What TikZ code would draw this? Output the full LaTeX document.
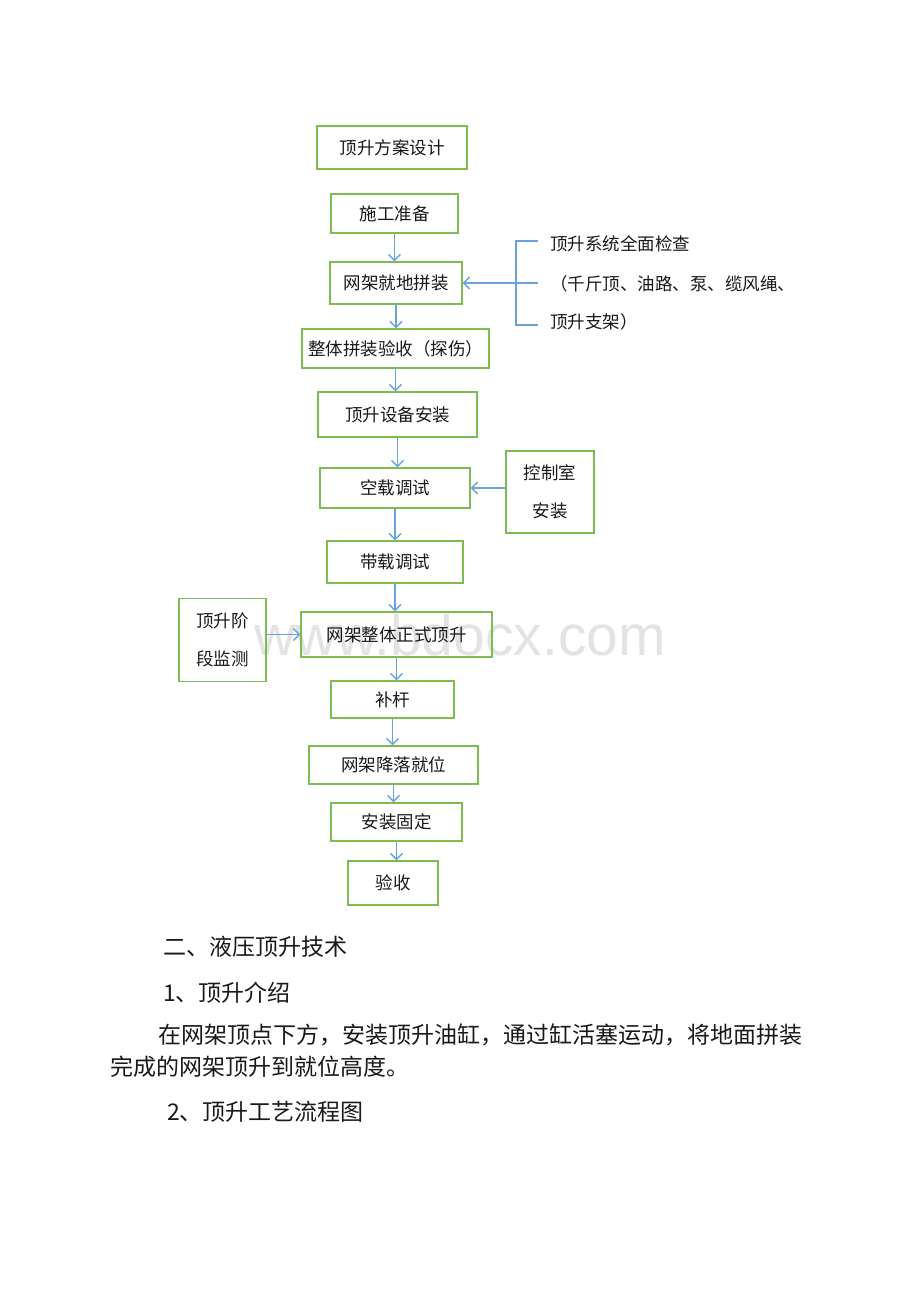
\documentclass[tikz,border=0pt]{standalone}
\usepackage{fontspec}
\newfontfamily\cjk{Noto Sans CJK SC}
\newfontfamily\wmfont{Liberation Sans}
\usetikzlibrary{arrows.meta}
\definecolor{boxgreen}{RGB}{125,188,80}
\definecolor{arrblue}{RGB}{105,162,222}
\definecolor{txt}{RGB}{25,25,25}
\begin{document}
\begin{tikzpicture}[x=1pt,y=-1pt,
  box/.style={draw=boxgreen,line width=1.4pt,inner sep=0pt,text=txt,
    font=\cjk\fontsize{17.5}{20}\selectfont},
  sidebox/.style={box,align=center,font=\cjk\fontsize{17.5}{38.5}\selectfont},
  arr/.style={draw=arrblue,line width=1.4pt,-{Straight Barb[length=6pt,width=12pt]}},
  bline/.style={draw=arrblue,line width=1.4pt},
  lbl/.style={anchor=west,inner sep=0pt,text=txt,font=\cjk\fontsize{17.5}{20}\selectfont},
  body/.style={anchor=west,inner sep=0pt,text=txt,font=\cjk\fontsize{23}{28}\selectfont}]
\useasboundingbox (0,0) rectangle (920,1302);
\fill[white] (0,0) rectangle (920,1302);
% watermark
\node[text=black!11,font=\wmfont\fontsize{57}{60}\selectfont,inner sep=0pt] (wm) at (460,635) {www.bdocx.com};
% main chain
\node[box,minimum width=150pt,minimum height=43pt] (b1) at (392,147.5) {\raisebox{-2pt}{顶升方案设计}};
\node[box,minimum width=127pt,minimum height=39pt] (b2) at (394.5,213.5) {\raisebox{-2pt}{施工准备}};
\node[box,minimum width=132pt,minimum height=42pt] (b3) at (396,283) {\raisebox{-2pt}{网架就地拼装}};
\node[box,minimum width=187pt,minimum height=39pt] (b4) at (395.5,348.5) {\raisebox{-2pt}{整体拼装验收（探伤）}};
\node[box,minimum width=159pt,minimum height=45pt] (b5) at (397.5,414.5) {\raisebox{-2pt}{顶升设备安装}};
\node[box,minimum width=150pt,minimum height=40pt] (b6) at (395,488) {\raisebox{-2pt}{空载调试}};
\node[box,minimum width=136pt,minimum height=42pt] (b7) at (395,562) {\raisebox{-2pt}{带载调试}};
\node[box,minimum width=191pt,minimum height=45pt] (b8) at (396.5,634.5) {\raisebox{-2pt}{网架整体正式顶升}};
\node[box,minimum width=123pt,minimum height=37pt] (b9) at (392.5,699.5) {\raisebox{-2pt}{补杆}};
\node[box,minimum width=169pt,minimum height=38pt] (b10) at (393.5,765) {\raisebox{-2pt}{网架降落就位}};
\node[box,minimum width=131pt,minimum height=38pt] (b11) at (396.5,822) {\raisebox{-2pt}{安装固定}};
\node[box,minimum width=90pt,minimum height=44pt] (b12) at (393,883) {\raisebox{-2pt}{验收}};
% side boxes
\node[sidebox,minimum width=88pt,minimum height=82pt] (s1) at (550,492) {控制室\\安装};
\node[sidebox,minimum width=87pt,minimum height=83pt] (s2) at (222.5,640) {顶升阶\\段监测};
% vertical arrows
\foreach \a/\b in {b2/b3,b3/b4,b4/b5,b5/b6,b6/b7,b7/b8,b8/b9,b9/b10,b10/b11,b11/b12}
  \draw[arr] (\a.south) -- (\a.south |- \b.north);
% side arrows
\draw[arr] (s1.west |- b6.east) -- (b6.east);
\draw[arr] (s2.east |- b8.west) -- (b8.west);
% bracket
\coordinate (brT) at (538,241);
\coordinate (brB) at (538,325);
\coordinate (brM) at (538,283);
\draw[bline] (brT) -- ++(-22,0) |- (brB);
\draw[arr] (brM) -- (b3.east);
\node[lbl] (t1) at (550,244) {顶升系统全面检查};
\node[lbl] (t2) at (550,284) {（千斤顶、油路、泵、缆风绳、};
\node[lbl] (t3) at (550,322) {顶升支架）};
% body text
\node[body] (p1) at (163,947) {二、液压顶升技术};
\node[body] (p2) at (163,993) {1、顶升介绍};
\node[body] (p3) at (158,1035) {在网架顶点下方，安装顶升油缸，通过缸活塞运动，将地面拼装};
\node[body] (p4) at (110,1067) {完成的网架顶升到就位高度。};
\node[body] (p5) at (167,1112) {2、顶升工艺流程图};
\end{tikzpicture}
\end{document}
